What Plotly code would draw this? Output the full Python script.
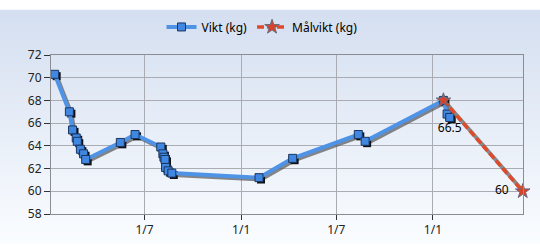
import plotly.graph_objects as go
from datetime import datetime, timedelta

# ---------------- data ----------------
vikt_dates = ["2010-01-11", "2010-02-08", "2010-02-14", "2010-02-21", "2010-02-23",
              "2010-03-01", "2010-03-07", "2010-03-11", "2010-05-16", "2010-06-13",
              "2010-08-01", "2010-08-05", "2010-08-07", "2010-08-09", "2010-08-10",
              "2010-08-15", "2010-08-22", "2011-02-04", "2011-04-09", "2011-08-12",
              "2011-08-25", "2012-01-21", "2012-01-28", "2012-02-02"]
vikt_values = [70.3, 67.0, 65.4, 64.7, 64.4, 63.7, 63.3, 62.8, 64.3, 65.0,
               63.9, 63.3, 63.0, 62.8, 62.1, 61.8, 61.6, 61.2, 62.9, 65.0,
               64.4, 68.0, 66.8, 66.5]
mal_dates = ["2012-01-21", "2012-06-20"]
mal_values = [68.0, 60.0]
tick_dates = ["2010-07-01", "2011-01-01", "2011-07-01", "2012-01-01"]
tick_labels = ["1/7", "1/1", "1/7", "1/1"]
x_range = ["2010-01-04", "2012-06-20 12:00"]
y_range = [58, 72]

# ---------------- layout geometry ----------------
W, H = 540, 250
ML, MR, MT, MB = 51, 17, 48, 32
PW, PH = W - ML - MR, H - MT - MB

# shadow offset (2px right, 2px down) expressed via shifted overlay axes
x0 = datetime.fromisoformat(x_range[0]); x1 = datetime.fromisoformat(x_range[1])
days_per_px = (x1 - x0).total_seconds() / 86400 / PW
sx = timedelta(days=2 * days_per_px)
sy = 2 * (y_range[1] - y_range[0]) / PH
x2_range = [(x0 - sx).isoformat(), (x1 - sx).isoformat()]
y2_range = [y_range[0] + sy, y_range[1] + sy]

FONT = "Noto Sans"
fig = go.Figure()

# empty trace so the base (visible) axes are drawn
fig.add_trace(go.Scatter(x=[], y=[], showlegend=False, hoverinfo="skip"))

# shadows (overlay axes x2/y2, drawn before main series on x3/y3)
fig.add_trace(go.Scatter(x=vikt_dates, y=vikt_values, mode="lines+markers",
                         xaxis="x2", yaxis="y2", showlegend=False, hoverinfo="skip",
                         line=dict(color="rgba(95,95,95,0.75)", width=4),
                         marker=dict(symbol="square", size=8, color="#111111")))
fig.add_trace(go.Scatter(x=mal_dates, y=mal_values, mode="lines",
                         xaxis="x2", yaxis="y2", showlegend=False, hoverinfo="skip",
                         cliponaxis=False,
                         line=dict(color="rgba(110,110,110,0.8)", width=4)))

# main series
vikt_text = [""] * (len(vikt_values) - 1) + [f"{vikt_values[-1]:g}"]
fig.add_trace(go.Scatter(x=vikt_dates, y=vikt_values, mode="lines+markers+text",
                         xaxis="x3", yaxis="y3",
                         name="Vikt (kg)", text=vikt_text, textposition="bottom center",
                         textfont=dict(color="#000000", size=12, family=FONT),
                         line=dict(color="#4f93e6", width=4),
                         marker=dict(symbol="square", size=8, color="#3f87e0",
                                     line=dict(color="#1b3560", width=1))))
mal_text = [""] * (len(mal_values) - 1) + [f"{mal_values[-1]:g}  "]
fig.add_trace(go.Scatter(x=mal_dates, y=mal_values, mode="lines+markers+text",
                         xaxis="x3", yaxis="y3", cliponaxis=False,
                         name="Målvikt (kg)", text=mal_text, textposition="middle left",
                         textfont=dict(color="#000000", size=12, family=FONT),
                         line=dict(color="#df4b2a", width=3.5, dash="7px,3px"),
                         marker=dict(symbol="star", size=11, color="#d8412a",
                                     line=dict(color="#6b6b7b", width=1))))

# background gradient strips (whole figure)
N = 60
top_c = (212, 223, 240)
bot_c = (250, 252, 255)
fy0, fy1 = -MB / PH, 1 + MT / PH
fx0, fx1 = -ML / PW, 1 + MR / PW
shapes = []
for i in range(N):
    t = i / (N - 1)
    c = tuple(round(top_c[k] + (bot_c[k] - top_c[k]) * t) for k in range(3))
    ya = fy1 - (fy1 - fy0) * i / N
    yb = fy1 - (fy1 - fy0) * (i + 1) / N
    shapes.append(dict(type="rect", xref="paper", yref="paper", x0=fx0, x1=fx1,
                       y0=yb - 0.002, y1=ya + 0.002, line=dict(width=0),
                       fillcolor=f"rgb{c}", layer="below"))

grid_c = "#a9acb3"
fig.update_layout(
    width=W, height=H,
    margin=dict(l=ML, r=MR, t=MT, b=MB),
    paper_bgcolor="rgba(0,0,0,0)", plot_bgcolor="rgba(0,0,0,0)",
    font=dict(family=FONT, size=12, color="#111111"),
    shapes=shapes,
    showlegend=True,
    legend=dict(orientation="h", x=(262 - ML) / PW, xanchor="center",
                y=1 + (MT - 18) / PH, yanchor="middle",
                bgcolor="rgba(0,0,0,0)", font=dict(size=12, family=FONT, color="#000000"),
                itemwidth=30),
    xaxis=dict(type="date", range=x_range, tickvals=tick_dates, ticktext=tick_labels,
               showgrid=True, gridcolor=grid_c, gridwidth=1,
               showline=True, linecolor="#8a8d94", mirror=True, linewidth=1,
               ticks="outside", ticklen=5, tickcolor="#333333", zeroline=False,
               tickfont=dict(size=12, color="#222222")),
    yaxis=dict(range=y_range, dtick=2, tick0=58,
               showgrid=True, gridcolor=grid_c, gridwidth=1,
               showline=True, linecolor="#8a8d94", mirror=True, linewidth=1,
               ticks="outside", ticklen=6, tickcolor="#333333", zeroline=False,
               tickfont=dict(size=12, color="#222222")),
    xaxis2=dict(type="date", range=x2_range, overlaying="x", visible=False),
    yaxis2=dict(range=y2_range, overlaying="y", visible=False),
    xaxis3=dict(type="date", range=x_range, overlaying="x", visible=False),
    yaxis3=dict(range=y_range, overlaying="y", visible=False),
)

fig.write_html("out.html")
